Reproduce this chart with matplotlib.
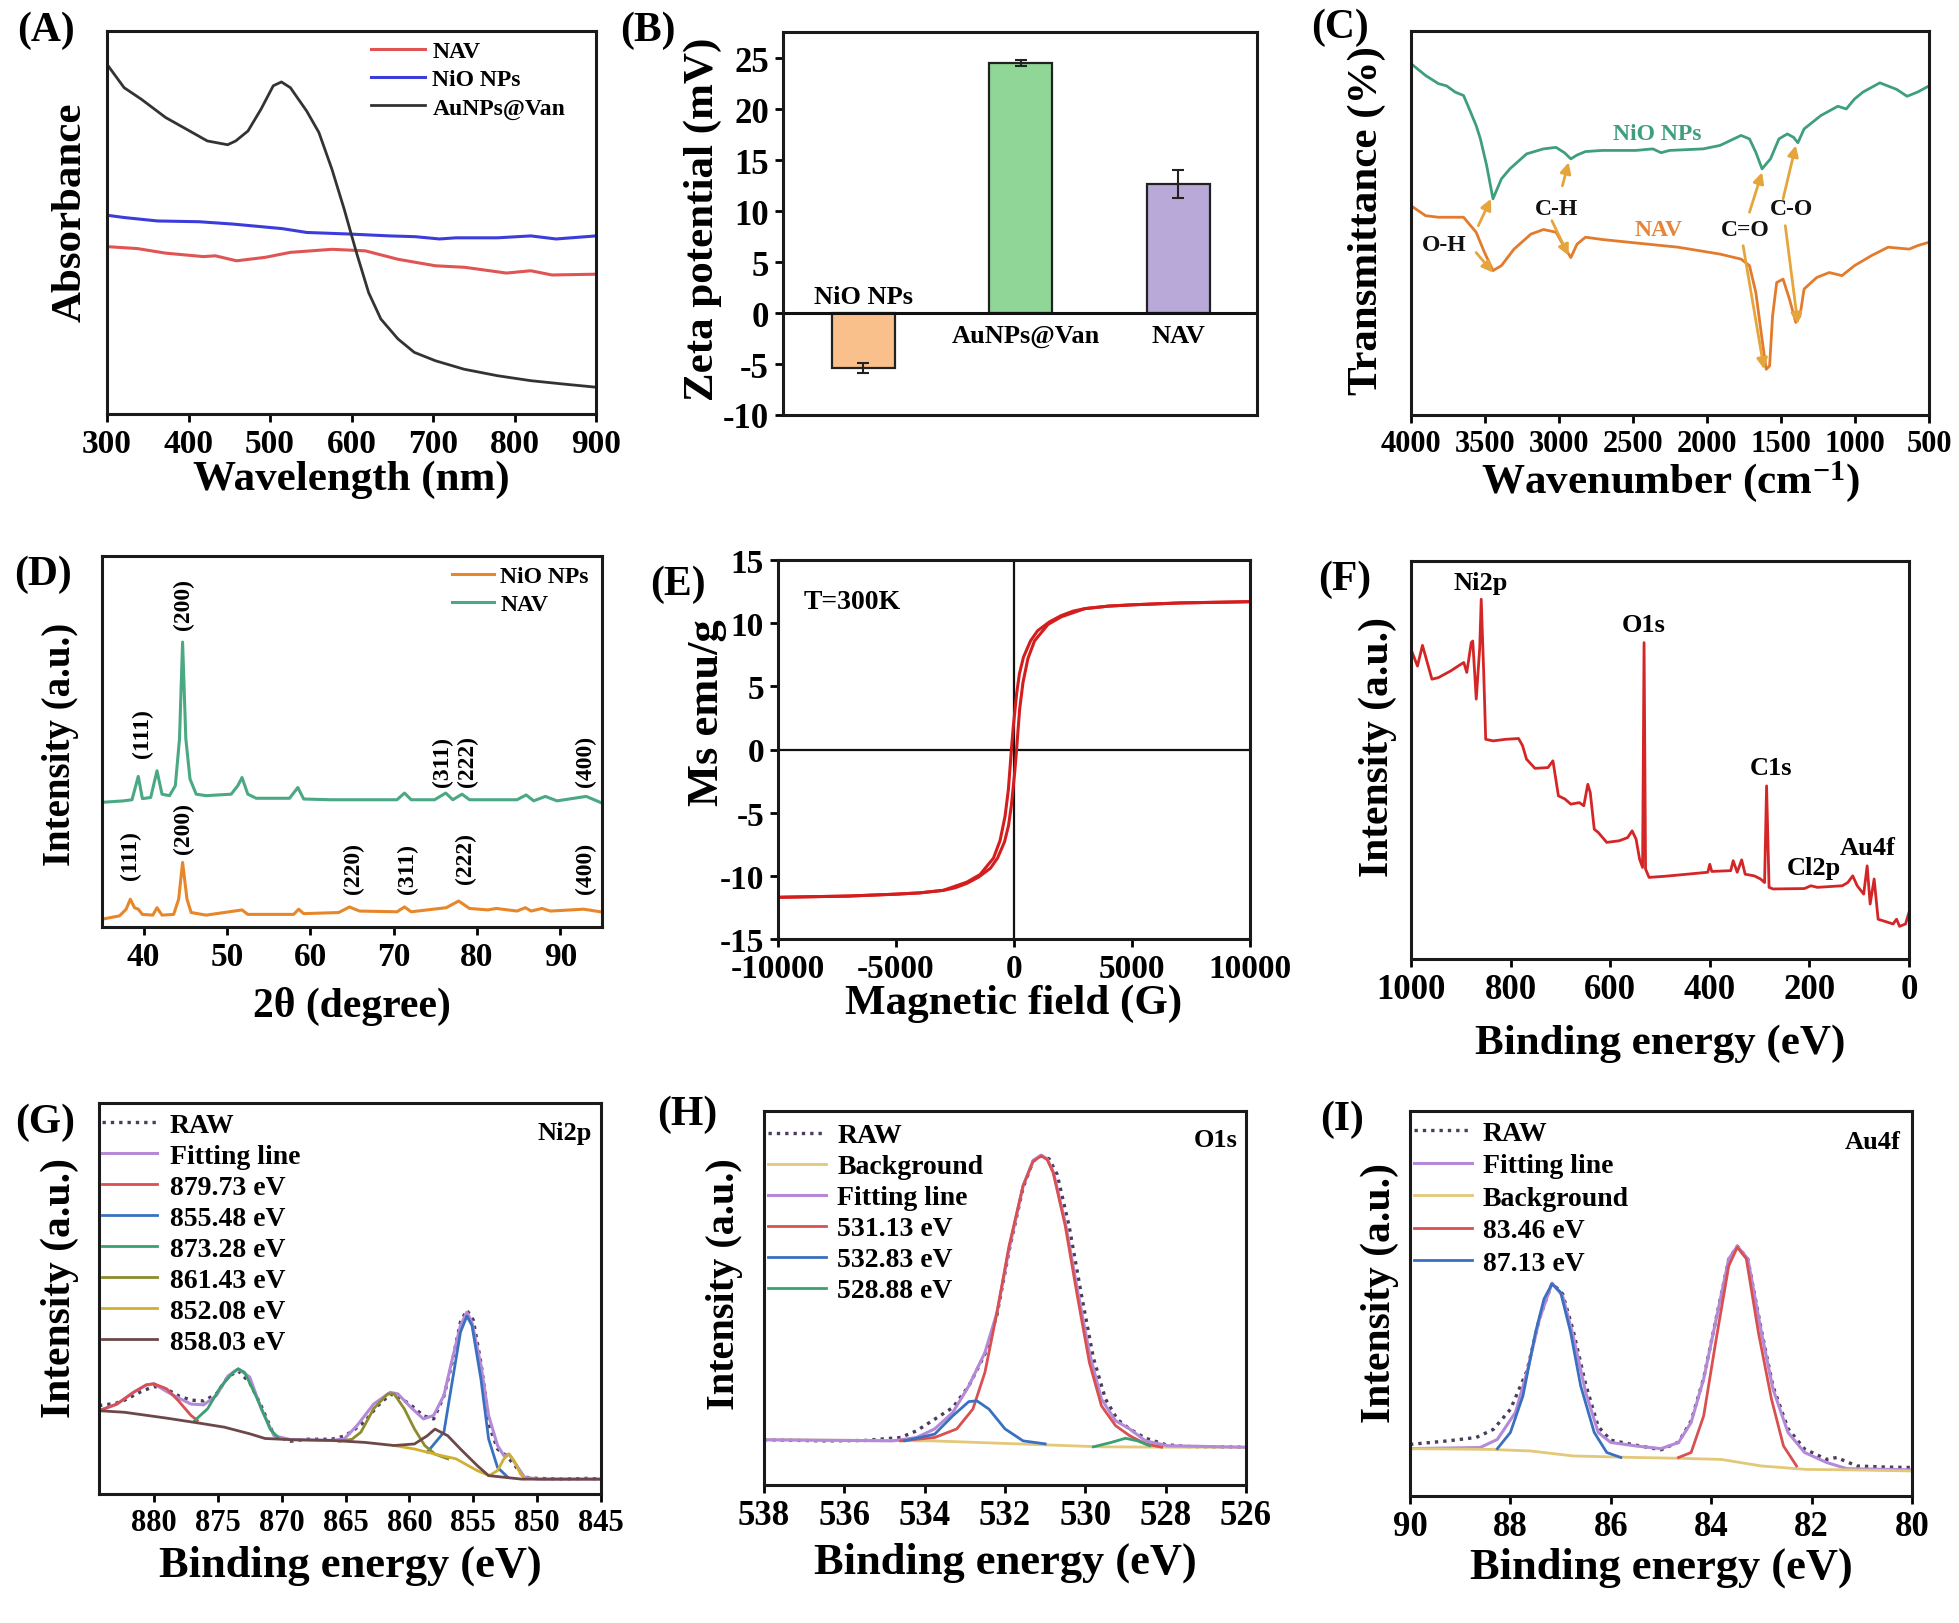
import matplotlib
matplotlib.use("Agg")
import matplotlib.pyplot as plt

plt.rcParams['font.family'] = ['Liberation Serif', 'DejaVu Serif']
plt.rcParams['font.weight'] = 'bold'
plt.rcParams['axes.labelweight'] = 'bold'
plt.rcParams['mathtext.default'] = 'regular'
plt.rcParams['axes.unicode_minus'] = False

# ---------------- data ----------------
# (A) UV-vis
A_wl_au = [300, 321, 342, 372, 398, 423, 448, 458, 473, 489, 504, 514, 525, 545, 560, 576, 591, 606, 621, 636, 657, 677, 703, 738, 779, 820, 861, 900]
A_au = [0.913, 0.852, 0.822, 0.774, 0.743, 0.713, 0.703, 0.713, 0.739, 0.796, 0.857, 0.867, 0.852, 0.791, 0.735, 0.639, 0.535, 0.422, 0.317, 0.248, 0.196, 0.161, 0.139, 0.117, 0.100, 0.087, 0.078, 0.070]
A_wl_nio = [300, 321, 362, 413, 454, 515, 545, 596, 647, 678, 708, 728, 779, 820, 851, 900]
A_nio = [0.519, 0.513, 0.504, 0.502, 0.496, 0.484, 0.474, 0.470, 0.465, 0.463, 0.457, 0.460, 0.460, 0.465, 0.457, 0.465]
A_wl_nav = [300, 337, 372, 418, 433, 459, 494, 525, 576, 617, 657, 703, 739, 790, 820, 846, 900]
A_nav = [0.437, 0.432, 0.420, 0.411, 0.413, 0.400, 0.409, 0.422, 0.430, 0.426, 0.404, 0.387, 0.383, 0.368, 0.374, 0.363, 0.365]

# (B) Zeta potential
B_names = ['NiO NPs', 'AuNPs@Van', 'NAV']
B_vals = [-5.4, 24.6, 12.7]
B_errs = [0.5, 0.3, 1.4]
B_ticks = [-10, -5, 0, 5, 10, 15, 20, 25]

# (C) FTIR
C_nio_x = [4000, 3901, 3815, 3759, 3702, 3645, 3616, 3560, 3531, 3489, 3446, 3389, 3332, 3219, 3105, 3020, 2963, 2920, 2878, 2821, 2707, 2480, 2366, 2310, 2253, 2026, 1912, 1770, 1713, 1670, 1628, 1571, 1514, 1457, 1415, 1386, 1344, 1230, 1116, 1059, 1003, 946, 832, 719, 648, 577, 500]
C_nio_y = [0.915, 0.884, 0.863, 0.857, 0.841, 0.832, 0.806, 0.754, 0.719, 0.650, 0.563, 0.615, 0.641, 0.680, 0.693, 0.697, 0.683, 0.667, 0.677, 0.686, 0.689, 0.689, 0.693, 0.683, 0.689, 0.693, 0.702, 0.728, 0.719, 0.684, 0.641, 0.667, 0.719, 0.732, 0.723, 0.709, 0.745, 0.780, 0.804, 0.797, 0.823, 0.841, 0.865, 0.848, 0.830, 0.841, 0.857]
C_nav_x = [4000, 3901, 3815, 3645, 3560, 3503, 3446, 3389, 3304, 3190, 3105, 3020, 2963, 2920, 2878, 2821, 2707, 2480, 2196, 1912, 1770, 1713, 1670, 1628, 1600, 1577, 1557, 1529, 1486, 1443, 1400, 1372, 1344, 1259, 1174, 1088, 1003, 889, 776, 634, 577, 500]
C_nav_y = [0.545, 0.519, 0.515, 0.515, 0.476, 0.423, 0.376, 0.389, 0.432, 0.471, 0.483, 0.476, 0.437, 0.410, 0.445, 0.463, 0.457, 0.448, 0.437, 0.419, 0.406, 0.389, 0.319, 0.197, 0.119, 0.128, 0.258, 0.345, 0.354, 0.302, 0.241, 0.258, 0.328, 0.358, 0.371, 0.363, 0.389, 0.415, 0.437, 0.432, 0.441, 0.450]

# (D) XRD
D_nav_x = [35.0, 37.6, 38.6, 39.35, 39.85, 40.84, 41.6, 42.2, 43.1, 43.8, 44.3, 44.67, 45.06, 45.56, 46.3, 47.5, 50.5, 51.3, 51.8, 52.5, 53.5, 57.5, 58.5, 59.2, 62.4, 67.4, 70.4, 71.3, 72.1, 74.9, 76.25, 77.1, 78.2, 79.1, 84.8, 85.9, 86.8, 88.2, 89.6, 93.1, 94.8]
D_nav_y = [0.336, 0.340, 0.343, 0.406, 0.346, 0.349, 0.421, 0.358, 0.354, 0.381, 0.507, 0.768, 0.507, 0.399, 0.358, 0.354, 0.358, 0.381, 0.403, 0.358, 0.347, 0.347, 0.376, 0.345, 0.343, 0.343, 0.343, 0.361, 0.343, 0.343, 0.361, 0.343, 0.358, 0.343, 0.343, 0.356, 0.340, 0.352, 0.340, 0.352, 0.336]
D_nio_x = [35.0, 37.1, 37.9, 38.4, 38.9, 39.35, 39.85, 41.1, 41.6, 42.2, 43.6, 44.2, 44.67, 45.2, 45.7, 47.5, 51.8, 52.5, 58.0, 58.6, 59.2, 63.4, 64.7, 65.9, 70.4, 71.3, 72.1, 76.3, 77.8, 79.1, 81.3, 82.3, 84.8, 85.8, 86.5, 87.8, 88.8, 92.8, 94.8]
D_nio_y = [0.021, 0.030, 0.048, 0.075, 0.052, 0.048, 0.034, 0.032, 0.052, 0.032, 0.034, 0.075, 0.174, 0.075, 0.039, 0.032, 0.046, 0.034, 0.034, 0.048, 0.036, 0.039, 0.054, 0.043, 0.041, 0.054, 0.041, 0.052, 0.070, 0.050, 0.046, 0.050, 0.043, 0.052, 0.043, 0.050, 0.043, 0.048, 0.041]

# (E) VSM hysteresis
E_up_H = [10000, 7000, 5000, 4000, 3000, 2500, 2000, 1500, 1000, 700, 400, 230, 110, 40, -30, -110, -170, -240, -380, -590, -870, -1440, -2000, -3000, -4000, -5000, -7000, -10000]
E_up_M = [11.7, 11.6, 11.45, 11.35, 11.15, 10.95, 10.6, 10.1, 9.4, 8.6, 7.3, 6.0, 4.4, 3.1, 1.8, 0.0, -1.5, -3.2, -5.3, -7.2, -8.6, -9.9, -10.5, -11.15, -11.35, -11.45, -11.6, -11.7]
E_dn_H = [-10000, -7000, -5000, -4000, -3000, -2500, -2000, -1500, -1000, -700, -400, -230, -110, -40, 30, 110, 170, 240, 380, 590, 870, 1440, 2000, 3000, 4000, 5000, 7000, 10000]
E_dn_M = [-11.7, -11.6, -11.45, -11.35, -11.15, -10.95, -10.6, -10.1, -9.4, -8.6, -7.3, -6.0, -4.4, -3.1, -1.8, 0.0, 1.5, 3.2, 5.3, 7.2, 8.6, 9.9, 10.5, 11.15, 11.35, 11.45, 11.6, 11.7]

# (F) XPS survey
F_x = [1000, 987, 977, 970, 958, 945, 920, 903, 894, 888, 879, 876, 869, 862, 859, 854, 850, 835, 810, 784, 776, 768, 751, 725, 715, 704, 691, 679, 662, 653, 645, 640, 632, 624, 607, 582, 565, 556, 548, 541, 535, 532, 529, 522, 489, 446, 404, 400, 396, 358, 353, 345, 336, 329, 311, 298, 290, 286, 281, 273, 210, 197, 184, 134, 123, 113, 104, 91, 84, 78, 70, 62, 32, 25, 19, 7, 0]
F_y = [0.778, 0.736, 0.788, 0.757, 0.703, 0.707, 0.724, 0.738, 0.745, 0.720, 0.795, 0.799, 0.653, 0.782, 0.904, 0.720, 0.552, 0.548, 0.552, 0.554, 0.536, 0.502, 0.479, 0.481, 0.498, 0.410, 0.402, 0.389, 0.393, 0.385, 0.439, 0.418, 0.326, 0.318, 0.293, 0.297, 0.305, 0.322, 0.301, 0.251, 0.230, 0.795, 0.226, 0.205, 0.208, 0.213, 0.218, 0.238, 0.220, 0.222, 0.247, 0.218, 0.249, 0.213, 0.209, 0.201, 0.192, 0.435, 0.180, 0.176, 0.177, 0.184, 0.180, 0.184, 0.192, 0.209, 0.184, 0.163, 0.234, 0.138, 0.201, 0.100, 0.088, 0.100, 0.082, 0.088, 0.117]

# (G) Ni2p
G_raw_x = [884.3, 883.0, 882.3, 881.0, 880.0, 879.0, 878.0, 877.1, 876.1, 875.1, 874.2, 873.4, 872.5, 871.6, 870.6, 869.3, 868.0, 866.1, 865.1, 864.5, 863.5, 862.5, 861.5, 860.9, 859.9, 858.9, 858.1, 857.3, 856.7, 856.0, 855.5, 855.0, 854.4, 853.7, 853.1, 852.4, 851.8, 851.0, 850.0, 848.0, 846.0, 845.0]
G_raw_y = [0.226, 0.232, 0.240, 0.262, 0.275, 0.268, 0.250, 0.240, 0.238, 0.256, 0.300, 0.315, 0.285, 0.225, 0.150, 0.135, 0.140, 0.140, 0.148, 0.160, 0.185, 0.225, 0.255, 0.250, 0.228, 0.200, 0.192, 0.250, 0.330, 0.440, 0.470, 0.445, 0.335, 0.170, 0.115, 0.098, 0.075, 0.043, 0.040, 0.038, 0.040, 0.038]
G_fit_x = [884.3, 882.9, 881.6, 880.6, 880.0, 879.0, 878.4, 877.1, 876.1, 875.1, 874.2, 873.4, 872.5, 871.6, 870.6, 869.3, 866.1, 865.1, 864.1, 862.8, 861.5, 860.9, 859.9, 858.9, 858.1, 857.3, 856.7, 856.0, 855.5, 855.1, 854.4, 853.8, 853.1, 852.6, 852.2, 851.6, 851.0, 849.9, 845.0]
G_fit_y = [0.213, 0.230, 0.260, 0.279, 0.282, 0.262, 0.251, 0.230, 0.228, 0.252, 0.302, 0.320, 0.299, 0.218, 0.149, 0.139, 0.137, 0.141, 0.175, 0.230, 0.260, 0.256, 0.222, 0.192, 0.201, 0.252, 0.337, 0.431, 0.465, 0.439, 0.329, 0.201, 0.124, 0.098, 0.102, 0.073, 0.043, 0.038, 0.038]
G_p1_x = [884.3, 882.9, 881.6, 880.6, 880.0, 879.0, 878.1, 877.1, 876.6]
G_p1_y = [0.213, 0.230, 0.260, 0.279, 0.282, 0.269, 0.239, 0.201, 0.188]
G_p2_x = [858.6, 857.3, 856.7, 856.0, 855.5, 855.1, 854.4, 853.8, 853.1, 852.3]
G_p2_y = [0.107, 0.158, 0.277, 0.414, 0.455, 0.431, 0.294, 0.141, 0.068, 0.043]
G_p3_x = [876.8, 875.8, 874.8, 873.8, 873.4, 872.9, 871.9, 870.9, 870.3]
G_p3_y = [0.188, 0.218, 0.273, 0.311, 0.320, 0.311, 0.243, 0.166, 0.145]
G_p4_x = [865.5, 864.5, 863.8, 862.8, 861.7, 861.2, 860.4, 859.6, 858.8, 858.0, 857.0]
G_p4_y = [0.135, 0.140, 0.158, 0.218, 0.256, 0.256, 0.218, 0.166, 0.124, 0.102, 0.090]
G_p5_x = [861.2, 859.6, 858.0, 856.35, 854.7, 853.75, 853.1, 852.6, 852.2, 851.8, 851.3, 851.0]
G_p5_y = [0.124, 0.115, 0.102, 0.090, 0.060, 0.047, 0.060, 0.090, 0.102, 0.085, 0.051, 0.040]
G_p6_x = [884.3, 882.3, 879.0, 876.4, 874.5, 872.5, 871.3, 869.3, 866.1, 863.5, 861.2, 859.6, 858.6, 858.0, 857.0, 856.0, 854.7, 853.8, 851.2, 845.0]
G_p6_y = [0.213, 0.209, 0.194, 0.181, 0.171, 0.154, 0.142, 0.139, 0.137, 0.132, 0.124, 0.128, 0.149, 0.166, 0.149, 0.115, 0.073, 0.047, 0.038, 0.038]
G_labels = ['879.73 eV', '855.48 eV', '873.28 eV', '861.43 eV', '852.08 eV', '858.03 eV']

# (H) O1s
H_raw_x = [538, 536.5, 535.5, 534.6, 534.2, 533.75, 533.3, 532.9, 532.5, 532.2, 531.9, 531.55, 531.3, 531.1, 530.9, 530.7, 530.4, 530.1, 529.8, 529.5, 529.2, 528.9, 528.5, 528.0, 527.5, 526]
H_raw_y = [0.121, 0.118, 0.119, 0.127, 0.145, 0.176, 0.207, 0.265, 0.350, 0.455, 0.625, 0.795, 0.866, 0.880, 0.872, 0.830, 0.690, 0.510, 0.340, 0.230, 0.175, 0.150, 0.125, 0.108, 0.103, 0.101]
H_bg_x = [538, 533.8, 531.7, 529.6, 527.5, 526]
H_bg_y = [0.121, 0.118, 0.110, 0.102, 0.101, 0.101]
H_fit_x = [538, 534.8, 534.2, 533.75, 533.3, 532.9, 532.5, 532.2, 531.9, 531.55, 531.3, 531.1, 530.95, 530.8, 530.5, 530.2, 529.9, 529.6, 529.25, 528.9, 528.5, 527.95, 526]
H_fit_y = [0.121, 0.118, 0.127, 0.150, 0.194, 0.265, 0.354, 0.461, 0.630, 0.800, 0.868, 0.882, 0.872, 0.838, 0.702, 0.524, 0.354, 0.230, 0.172, 0.150, 0.118, 0.105, 0.101]
H_p1_x = [534.6, 533.75, 533.2, 532.8, 532.5, 532.2, 531.9, 531.55, 531.3, 531.1, 530.95, 530.8, 530.5, 530.2, 529.9, 529.6, 529.25, 528.9, 528.5, 528.1]
H_p1_y = [0.118, 0.127, 0.150, 0.203, 0.301, 0.461, 0.639, 0.800, 0.865, 0.880, 0.870, 0.835, 0.693, 0.506, 0.328, 0.212, 0.159, 0.132, 0.110, 0.101]
H_p2_x = [534.5, 533.75, 533.3, 532.9, 532.7, 532.4, 532.0, 531.55, 531.0]
H_p2_y = [0.118, 0.136, 0.185, 0.223, 0.225, 0.203, 0.150, 0.118, 0.110]
H_p3_x = [529.8, 529.35, 529.0, 528.7, 528.4]
H_p3_y = [0.102, 0.114, 0.125, 0.118, 0.105]
H_labels = ['531.13 eV', '532.83 eV', '528.88 eV']

# (I) Au4f
I_raw_x = [90, 89.26, 88.68, 88.34, 88.0, 87.67, 87.42, 87.17, 86.96, 86.75, 86.5, 86.25, 86.0, 85.5, 85.0, 84.65, 84.4, 84.15, 83.9, 83.65, 83.48, 83.27, 83.0, 82.77, 82.47, 82.14, 81.7, 81.5, 81.1, 80.5, 80]
I_raw_y = [0.134, 0.143, 0.152, 0.173, 0.225, 0.325, 0.462, 0.553, 0.525, 0.430, 0.290, 0.180, 0.145, 0.132, 0.120, 0.140, 0.195, 0.306, 0.462, 0.615, 0.649, 0.615, 0.430, 0.285, 0.175, 0.122, 0.095, 0.100, 0.078, 0.075, 0.074]
I_fit_x = [90, 88.6, 88.26, 87.9, 87.67, 87.42, 87.17, 86.96, 86.75, 86.5, 86.25, 86.0, 85.5, 85.0, 84.65, 84.4, 84.15, 83.9, 83.65, 83.48, 83.27, 83.0, 82.77, 82.47, 82.14, 81.7, 81.3, 80]
I_fit_y = [0.123, 0.126, 0.147, 0.217, 0.321, 0.460, 0.553, 0.520, 0.416, 0.269, 0.165, 0.139, 0.130, 0.123, 0.139, 0.191, 0.304, 0.460, 0.616, 0.649, 0.616, 0.425, 0.278, 0.165, 0.113, 0.087, 0.071, 0.068]
I_bg_x = [90, 88.4, 87.6, 86.75, 85.5, 84.65, 83.8, 83.0, 82.1, 81.3, 80]
I_bg_y = [0.123, 0.121, 0.117, 0.104, 0.100, 0.098, 0.095, 0.078, 0.069, 0.068, 0.065]
I_p1_x = [84.65, 84.4, 84.15, 83.9, 83.65, 83.48, 83.3, 83.06, 82.8, 82.56, 82.3]
I_p1_y = [0.100, 0.113, 0.208, 0.408, 0.598, 0.646, 0.616, 0.425, 0.252, 0.130, 0.078]
I_p2_x = [88.26, 88.0, 87.75, 87.5, 87.33, 87.17, 87.0, 86.8, 86.6, 86.33, 86.08, 85.8]
I_p2_y = [0.123, 0.165, 0.260, 0.425, 0.512, 0.551, 0.529, 0.425, 0.286, 0.165, 0.113, 0.100]
I_labels = ['83.46 eV', '87.13 eV']

# ---------------- figure ----------------
W, H = 1959, 1624
fig = plt.figure(figsize=(W / 100, H / 100), dpi=100)
fig.patch.set_facecolor('white')


def mk(box):
    l, t, r, b = box
    return fig.add_axes([l / W, 1 - b / H, (r - l) / W, (b - t) / H])


def style(ax, tsize=24, yticks=False):
    for s in ax.spines.values():
        s.set_linewidth(2.2)
        s.set_color('#1a1a1a')
    ax.tick_params(axis='both', direction='out', length=6, width=2, labelsize=tsize, pad=4)
    ax.tick_params(top=False, right=False)
    if not yticks:
        ax.set_yticks([])
    for lab in ax.get_xticklabels() + ax.get_yticklabels():
        lab.set_fontweight('bold')


def xlab(ax, text, y, size=31):
    ax.set_xlabel(text, fontsize=size, fontweight='bold')
    ax.xaxis.set_label_coords(0.5, y)


def ylab(ax, text, x, yc=0.5, size=30):
    ax.set_ylabel(text, fontsize=size, fontweight='bold')
    ax.yaxis.set_label_coords(x, yc)


def panel(x, y, s):
    fig.text(x / W, 1 - y / H, s, fontsize=30, fontweight='bold', ha='left', va='top')


# ----- A -----
ax = mk((107, 32, 596, 415))
ax.plot(A_wl_nav, A_nav, color='#e05454', lw=2.2, label='NAV')
ax.plot(A_wl_nio, A_nio, color='#3c3cdc', lw=2.2, label='NiO NPs')
ax.plot(A_wl_au, A_au, color='#333333', lw=2.0, label='AuNPs@Van')
ax.set_xlim(300, 900)
ax.set_ylim(0, 1)
ax.set_xticks([300, 400, 500, 600, 700, 800, 900])
style(ax, 24)
ax.legend(loc='upper left', bbox_to_anchor=(0.54, 0.975), frameon=False, fontsize=17,
          handlelength=2.3, handletextpad=0.3, labelspacing=0.28, borderpad=0, borderaxespad=0)
xlab(ax, 'Wavelength (nm)', -0.12)
ylab(ax, 'Absorbance', -0.035, 0.53, 31)
panel(17, 12, '(A)')

# ----- B -----
ax = mk((783, 33, 1257, 416))
bx = [1, 2, 3]
ax.bar(bx, B_vals, width=0.4, color=['#f9c08c', '#90d696', '#b9a9d8'], edgecolor='#222222', linewidth=1.6,
       yerr=B_errs, capsize=4, error_kw=dict(elinewidth=1.5, capthick=1.5, ecolor='#222222'))
ax.axhline(0, color='#111111', lw=2.2)
ax.set_xlim(0.49, 3.5)
ax.set_ylim(-10, 27.6)
ax.set_xticks([])
ax.set_yticks(B_ticks)
style(ax, 25, yticks=True)
ax.text(bx[0], 1.6, B_names[0], ha='center', va='center', fontsize=19, fontweight='bold')
ax.text(bx[1] + 0.03, -2.2, B_names[1], ha='center', va='center', fontsize=19, fontweight='bold')
ax.text(bx[2], -2.2, B_names[2], ha='center', va='center', fontsize=19, fontweight='bold')
ylab(ax, 'Zeta potential (mV)', -0.128, 0.514, 31)
panel(620, 12, '(B)')

# ----- C -----
ax = mk((1411, 32, 1929, 416))
ax.plot(C_nio_x, C_nio_y, color='#3f9f7c', lw=2.0)
ax.plot(C_nav_x, C_nav_y, color='#e27b2c', lw=2.0)
ax.set_xlim(4000, 500)
ax.set_ylim(0, 1)
ax.set_xticks([4000, 3500, 3000, 2500, 2000, 1500, 1000, 500])
style(ax, 22)
ax.text(2338, 0.732, 'NiO NPs', color='#3f9f7c', fontsize=17, fontweight='bold', ha='center', va='center')
ax.text(2324, 0.484, 'NAV', color='#e8843a', fontsize=17, fontweight='bold', ha='center', va='center')
for s, (tx, ty) in zip(['O-H', 'C-H', 'C=O', 'C-O'], [(3773, 0.445), (3020, 0.537), (1741, 0.484), (1429, 0.537)]):
    ax.text(tx, ty, s, fontsize=17, fontweight='bold', ha='center', va='center', color='#111111')
arrows = [((3545, 0.493), (3460, 0.563)), ((3560, 0.423), (3446, 0.371)),
          ((2977, 0.597), (2935, 0.658)), ((3048, 0.506), (2935, 0.415)),
          ((1713, 0.528), (1628, 0.632)), ((1756, 0.441), (1614, 0.119)),
          ((1486, 0.563), (1400, 0.702)), ((1471, 0.493), (1386, 0.237))]
for (sx, sy), (ex, ey) in arrows:
    ax.annotate('', xy=(ex, ey), xytext=(sx, sy),
                arrowprops=dict(arrowstyle='-|>', color='#e6a53c', lw=2.0, mutation_scale=16, shrinkA=0, shrinkB=0))
xlab(ax, 'Wavenumber (cm$^{-1}$)', -0.112)
ylab(ax, 'Transmittance (%)', -0.048, 0.51, 31)
panel(1311, 9, '(C)')

# ----- D -----
ax = mk((102, 557, 602, 928))
ax.plot(D_nio_x, D_nio_y, color='#e8862a', lw=2.2, label='NiO NPs')
ax.plot(D_nav_x, D_nav_y, color='#4aa882', lw=2.2, label='NAV')
ax.set_xlim(35, 95)
ax.set_ylim(0, 1)
ax.set_xticks([40, 50, 60, 70, 80, 90])
style(ax, 24)
ax.legend(loc='upper left', bbox_to_anchor=(0.70, 0.975), frameon=False, fontsize=17,
          handlelength=1.8, handletextpad=0.25, labelspacing=0.3, borderpad=0, borderaxespad=0)
hkl = [('(111)', 39.85, 0.525), ('(200)', 44.8, 0.871), ('(311)', 75.8, 0.448), ('(222)', 78.9, 0.448),
       ('(400)', 93.0, 0.448), ('(111)', 38.4, 0.196), ('(200)', 44.8, 0.268), ('(220)', 65.2, 0.160),
       ('(311)', 71.6, 0.160), ('(222)', 78.6, 0.187), ('(400)', 93.0, 0.160)]
for s, hx, hy in hkl:
    ax.text(hx, hy, s, rotation=90, ha='center', va='center', fontsize=17, fontweight='bold')
xlab(ax, '2\u03b8 (degree)', -0.16, 30)
ylab(ax, 'Intensity (a.u.)', -0.046, 0.495, 28)
panel(14, 556, '(D)')

# ----- E -----
ax = mk((778, 561, 1250, 940))
ax.axhline(0, color='#111111', lw=1.6)
ax.axvline(0, color='#111111', lw=1.6)
ax.plot(E_up_H, E_up_M, color='#d41e1e', lw=2.2)
ax.plot(E_dn_H, E_dn_M, color='#d41e1e', lw=2.2)
ax.set_xlim(-10000, 10000)
ax.set_ylim(-15, 15)
ax.set_xticks([-10000, -5000, 0, 5000, 10000])
ax.set_yticks([-15, -10, -5, 0, 5, 10, 15])
style(ax, 24, yticks=True)
ax.text(0.055, 0.89, 'T=300K', transform=ax.transAxes, fontsize=20, fontweight='bold', ha='left', va='center')
xlab(ax, 'Magnetic field (G)', -0.118)
ylab(ax, 'Ms emu/g', -0.108, 0.6, 32)
panel(650, 566, '(E)')

# ----- F -----
ax = mk((1411, 562, 1909, 960))
ax.plot(F_x, F_y, color='#d42626', lw=2.0)
ax.set_xlim(1000, 0)
ax.set_ylim(0, 1)
ax.set_xticks([1000, 800, 600, 400, 200, 0])
style(ax, 25)
for s, fx, fy in [('Ni2p', 860, 0.946), ('O1s', 533, 0.841), ('C1s', 277, 0.481), ('Cl2p', 191, 0.230), ('Au4f', 83, 0.280)]:
    ax.text(fx, fy, s, fontsize=19, fontweight='bold', ha='center', va='center')
xlab(ax, 'Binding energy (eV)', -0.163)
ylab(ax, 'Intensity (a.u.)', -0.028, 0.535, 30)
panel(1318, 561, '(F)')

# ----- G -----
ax = mk((99, 1104, 601, 1495))
ax.plot(G_raw_x, G_raw_y, color='#4a3c5c', lw=2.4, ls=(0, (1, 1.5)), label='RAW')
ax.plot(G_fit_x, G_fit_y, color='#b48ad8', lw=2.2, label='Fitting line')
gcols = ['#d85050', '#3a70c0', '#3aa070', '#8c8c2c', '#d0b030', '#6e4848']
for xs, ys, c, lab in zip([G_p1_x, G_p2_x, G_p3_x, G_p4_x, G_p5_x, G_p6_x],
                          [G_p1_y, G_p2_y, G_p3_y, G_p4_y, G_p5_y, G_p6_y], gcols, G_labels):
    ax.plot(xs, ys, color=c, lw=2.0, label=lab)
ax.set_xlim(884.3, 845)
ax.set_ylim(0, 1)
ax.set_xticks([880, 875, 870, 865, 860, 855, 850, 845])
style(ax, 22)
ax.legend(loc='upper left', bbox_to_anchor=(0.005, 0.975), frameon=False, fontsize=20,
          handlelength=2.0, handletextpad=0.45, labelspacing=0.2, borderpad=0, borderaxespad=0)
ax.text(0.982, 0.925, 'Ni2p', transform=ax.transAxes, fontsize=19, fontweight='bold', ha='right', va='center')
xlab(ax, 'Binding energy (eV)', -0.128, 32)
ylab(ax, 'Intensity (a.u.)', -0.04, 0.53, 30)
panel(15, 1104, '(G)')

# ----- H -----
ax = mk((764, 1112, 1246, 1486))
ax.plot(H_raw_x, H_raw_y, color='#4a3c5c', lw=2.4, ls=(0, (1, 1.5)), label='RAW')
ax.plot(H_bg_x, H_bg_y, color='#e2c878', lw=2.0, label='Background')
ax.plot(H_fit_x, H_fit_y, color='#b48ad8', lw=2.2, label='Fitting line')
for xs, ys, c, lab in zip([H_p1_x, H_p2_x, H_p3_x], [H_p1_y, H_p2_y, H_p3_y],
                          ['#d85050', '#3a70c0', '#3aa070'], H_labels):
    ax.plot(xs, ys, color=c, lw=2.0, label=lab)
ax.set_xlim(538, 526)
ax.set_ylim(0, 1)
ax.set_xticks([538, 536, 534, 532, 530, 528, 526])
style(ax, 25)
ax.legend(loc='upper left', bbox_to_anchor=(0.008, 0.968), frameon=False, fontsize=20,
          handlelength=2.1, handletextpad=0.4, labelspacing=0.2, borderpad=0, borderaxespad=0)
ax.text(0.983, 0.925, 'O1s', transform=ax.transAxes, fontsize=19, fontweight='bold', ha='right', va='center')
xlab(ax, 'Binding energy (eV)', -0.15, 32)
ylab(ax, 'Intensity (a.u.)', -0.044, 0.54, 29)
panel(657, 1096, '(H)')

# ----- I -----
ax = mk((1410, 1112, 1912, 1497))
ax.plot(I_raw_x, I_raw_y, color='#4a3c5c', lw=2.4, ls=(0, (1, 1.5)), label='RAW')
ax.plot(I_fit_x, I_fit_y, color='#b48ad8', lw=2.2, label='Fitting line')
ax.plot(I_bg_x, I_bg_y, color='#e2c878', lw=2.0, label='Background')
for xs, ys, c, lab in zip([I_p1_x, I_p2_x], [I_p1_y, I_p2_y], ['#d85050', '#3a70c0'], I_labels):
    ax.plot(xs, ys, color=c, lw=2.0, label=lab)
ax.set_xlim(90, 80)
ax.set_ylim(0, 1)
ax.set_xticks([90, 88, 86, 84, 82, 80])
style(ax, 25)
ax.legend(loc='upper left', bbox_to_anchor=(0.007, 0.975), frameon=False, fontsize=20,
          handlelength=2.1, handletextpad=0.4, labelspacing=0.25, borderpad=0, borderaxespad=0)
ax.text(0.978, 0.922, 'Au4f', transform=ax.transAxes, fontsize=19, fontweight='bold', ha='right', va='center')
xlab(ax, 'Binding energy (eV)', -0.13, 32)
ylab(ax, 'Intensity (a.u.)', -0.022, 0.53, 30)
panel(1320, 1101, '(I)')

fig.savefig('out.png', dpi=100, facecolor='white')
